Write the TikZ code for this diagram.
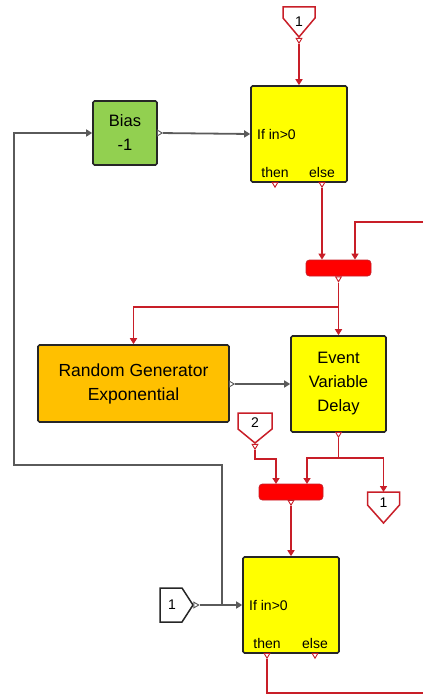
\documentclass[tikz,border=0pt]{standalone}
\usepackage{fontspec}
\setmainfont{Liberation Sans}
\usetikzlibrary{positioning,shapes.geometric,arrows.meta}
\definecolor{evred}{RGB}{200,30,40}
\definecolor{sigline}{RGB}{90,90,90}
\definecolor{blkyellow}{RGB}{255,255,0}
\definecolor{blkgreen}{RGB}{146,208,80}
\definecolor{blkorange}{RGB}{255,192,0}
\definecolor{barred}{RGB}{255,0,0}

\begin{document}
\begin{tikzpicture}[x=1pt,y=-1pt,
  block/.style={draw=black!85, line width=1.6pt, rounded corners=1.5pt, inner sep=0pt,
    font=\fontsize{16.5}{24}\selectfont, align=center},
  ifblock/.style={block, fill=blkyellow, minimum width=96pt, minimum height=96pt},
  small/.style={font=\fontsize{14}{14}\selectfont, inner sep=0pt},
  bar/.style={draw=evred, line width=0.8pt, fill=barred, rounded corners=3.5pt,
    minimum width=#1, minimum height=16pt, inner sep=0pt},
  evwire/.style={draw=evred, line width=1.8pt},
  sigwire/.style={draw=sigline, line width=1.8pt},
  evarr/.style={evwire, -{Triangle[length=6pt,width=7pt]}},
  sigarr/.style={sigwire, -{Triangle[length=6pt,width=7pt]}},
  port/.style={regular polygon, regular polygon sides=3, minimum size=6.5pt,
    inner sep=0pt, fill=white, line width=0.9pt},
  evport/.style={port, draw=evred, shape border rotate=180},
  sigport/.style={port, draw=sigline, shape border rotate=-90},
  pinline/.style={line width=1.5pt, line join=miter},
]
\useasboundingbox (0,0) rectangle (423,698);

% blocks
\node[ifblock] (if1) at (299,134) {};
\node[block, fill=blkgreen, minimum width=64pt, minimum height=64pt] (bias) at (125,133) {Bias\\-1};
\node[bar=65pt] (bar1) at (338.5,268) {};
\node[block, fill=blkorange, minimum width=191pt, minimum height=77pt,
  font=\fontsize{17.5}{24}\selectfont] (rng) at (133.5,383.5) {Random Generator\\Exponential};
\node[block, fill=blkyellow, minimum width=95pt, minimum height=96pt] (evd) at (338.5,384)
  {Event\\Variable\\Delay};
\node[bar=64pt] (bar2) at (291,492) {};
\node[ifblock] (if2) at (291,605) {};

% texts in the if blocks
\node[small, anchor=west] (if1cond) at (257,134) {If in>0};
\node[small] (if1then) at (275,172) {then};
\node[small] (if1else) at (322,172) {else};
\node[small, anchor=west] (if2cond) at (249,605) {If in>0};
\node[small] (if2then) at (267,643) {then};
\node[small] (if2else) at (315,643) {else};

% pins
\node[small] (in1) at (299,22) {1};
\draw[pinline, evred] (in1) ++(-16,-15) -- ++(32,0) -- ++(0,11) -- ++(-16,19) -- ++(-16,-19) -- cycle;
\node[small] (in2) at (255,423) {2};
\draw[pinline, evred] (in2) ++(-17,-10) -- ++(34,0) -- ++(0,16) -- ++(-17,14) -- ++(-17,-14) -- cycle;
\node[small] (out1) at (383.5,503) {1};
\draw[pinline, evred] (out1) ++(-16,-11) -- ++(32,0) -- ++(0,13) -- ++(-16,18) -- ++(-16,-18) -- cycle;
\node[small] (inv1) at (172,605) {1};
\draw[pinline, black!85] (inv1) ++(-12,-17) -- ++(22,0) -- ++(11,17) -- ++(-11,17) -- ++(-22,0) -- cycle;

% ports
\node[evport] (pin1) at (299,40) {};
\node[evport] (pif1t) at (275,184) {};
\node[evport] (pif1e) at (322,184) {};
\node[evport] (pbar1) at (338.5,278.5) {};
\node[evport] (pevd) at (338.5,434) {};
\node[evport] (pin2) at (255,446) {};
\node[evport] (pbar2) at (291,502) {};
\node[evport] (pif2t) at (267,655) {};
\node[evport] (pif2e) at (315,655) {};
\node[sigport] (pbias) at (159,133) {};
\node[sigport] (prng) at (231,384) {};
\node[sigport] (pinv1) at (195.5,605) {};

% bends and free ends
\coordinate (rin) at (423,222);
\coordinate (split1) at (338.5,307);
\coordinate (k2) at (255,459);
\coordinate (b2in1) at (276,484);
\coordinate (b2in2) at (307,484);
\coordinate (split2) at (338.5,458);
\coordinate (jn) at (222,605);
\coordinate (fbk) at (14,465);
\coordinate (rout) at (423,693);

% event wires
\draw[evarr] (pin1) -- (if1.north);
\draw[evarr] (pif1e) -- (pif1e |- bar1.north);
\draw[evarr] (rin) -| ([xshift=16.5pt]bar1.north);
\draw[evarr] (pbar1) -- (evd.north);
\draw[evarr] (split1) -| (rng.north);
\draw[evarr] (pin2) -- (k2) -| (b2in1);
\draw[evwire] (pevd) -- (split2);
\draw[evarr] (split2) -| (b2in2);
\draw[evarr] (split2) -| (out1 |- 0,492);
\draw[evarr] (pbar2) -- (if2.north);
\draw[evwire] (pif2t) |- (rout);

% signal wires
\draw[sigarr] (pbias) -- (if1.west);
\draw[sigarr] (prng) -- (evd.west);
\draw[sigarr] (pinv1) -- (if2.west);
\draw[sigarr] (jn) |- (fbk) |- (bias.west);
\end{tikzpicture}
\end{document}
